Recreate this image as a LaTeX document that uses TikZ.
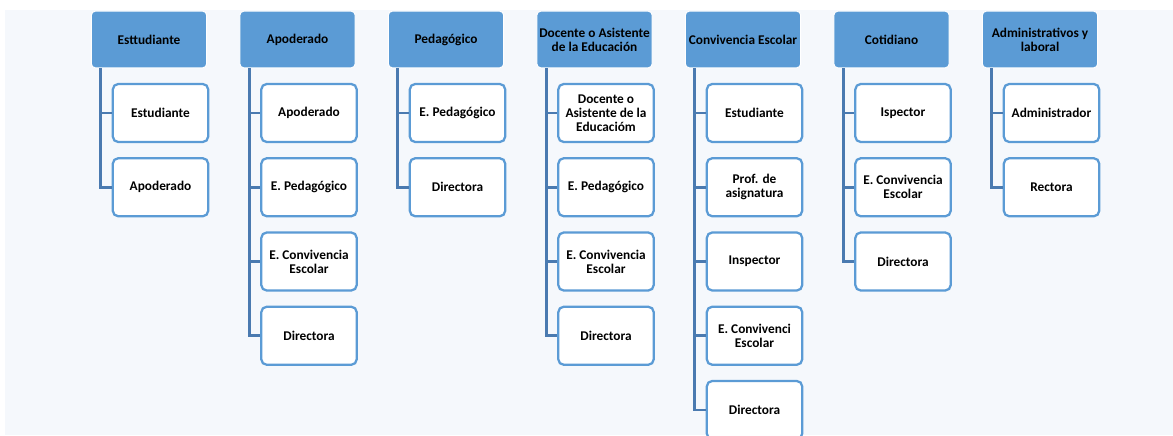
\documentclass[tikz,border=0pt]{standalone}
\usepackage{fontspec}
\setmainfont{Carlito}
\definecolor{pblue}{HTML}{5B9BD5}
\definecolor{lineblue}{HTML}{4A7AB0}
\definecolor{bgc}{HTML}{F5F8FC}
\tikzset{
  parentbox/.style={draw=white, line width=0.75pt, fill=pblue, rounded corners=3pt,
    minimum width=86.5pt, minimum height=42.5pt, align=center, inner sep=0pt,
    font=\fontsize{10}{10.6}\selectfont\bfseries},
  childbox/.style={draw=pblue, line width=1.7pt, fill=white, rounded corners=4pt,
    minimum width=71.5pt, minimum height=43.5pt, align=center, inner sep=0pt,
    font=\fontsize{10}{10.6}\selectfont\bfseries},
  conn/.style={draw=lineblue, line width=2.2pt}
}
\newcommand{\orgcol}[4]{%
  % #1 index, #2 left x, #3 parent text, #4 children list
  \node[parentbox] (p#1) at (#2+58,39.5) {#3};
  \foreach \t [count=\k from 0] in {#4} {
    \node[childbox] (c#1-\k) at (#2+69.5,113+74.25*\k) {\t};
    \draw[conn] ([xshift=7.5pt]p#1.south west) |- (c#1-\k.west);
  }%
}
\begin{document}
\begin{tikzpicture}[x=0.75pt,y=-0.75pt]
\useasboundingbox (0,0) rectangle (1173,435);
\fill[bgc] (5,10) rectangle (1173,435);
\orgcol{1}{91}{Esttudiante}{{Estudiante},{Apoderado}}
\orgcol{2}{239.5}{Apoderado}{{Apoderado},{E. Pedagógico},{E. Convivencia\\Escolar},{Directora}}
\orgcol{3}{388}{Pedagógico}{{E. Pedagógico},{Directora}}
\orgcol{4}{536.5}{Docente o Asistente\\de la Educación}{{Docente o\\Asistente de la\\Educacióm},{E. Pedagógico},{E. Convivencia\\Escolar},{Directora}}
\orgcol{5}{685}{Convivencia Escolar}{{Estudiante},{Prof. de\\asignatura},{Inspector},{E. Convivenci\\Escolar},{Directora}}
\orgcol{6}{833.5}{Cotidiano}{{Ispector},{E. Convivencia\\Escolar},{Directora}}
\orgcol{7}{982}{Administrativos y\\laboral}{{Administrador},{Rectora}}
\end{tikzpicture}
\end{document}
